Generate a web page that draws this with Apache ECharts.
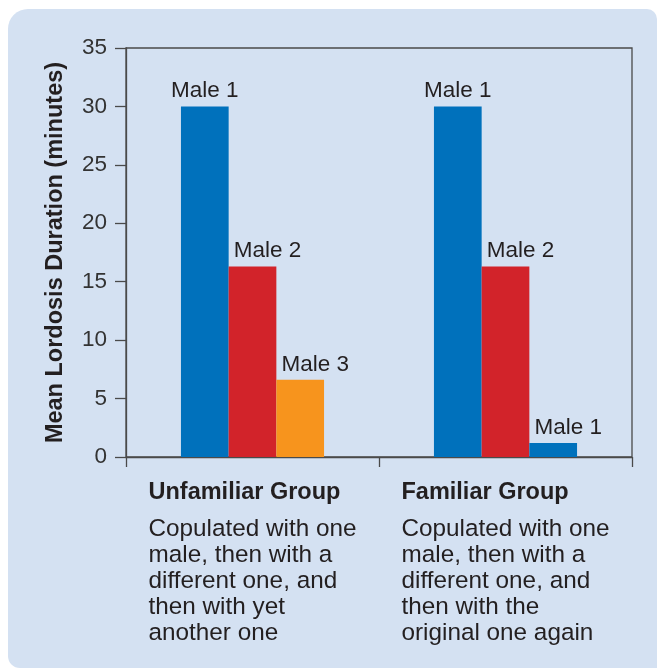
<!DOCTYPE html>
<html>
<head>
<meta charset="utf-8">
<script src="https://cdn.jsdelivr.net/npm/echarts@6/dist/echarts.min.js"></script>
<style>
  html, body { margin: 0; padding: 0; background: #fff; }
  #chart { width: 657px; height: 669px; }
</style>
</head>
<body>
<div id="chart"></div>
<script>
// data
const groups = ["Unfamiliar Group", "Familiar Group"];
const groupNotes = [
  ["Copulated with one", "male, then with a", "different one, and", "then with yet", "another one"],
  ["Copulated with one", "male, then with a", "different one, and", "then with the", "original one again"]
];
const firstMale = [30, 30];
const secondMale = [16.3, 16.3];
const thirdMale = [6.6, 1.2];
const firstLabels = ["Male 1", "Male 1"];
const secondLabels = ["Male 2", "Male 2"];
const thirdLabels = ["Male 3", "Male 1"];
const yTicks = [0, 5, 10, 15, 20, 25, 30, 35];

const blue = "#0071bc", red = "#d2232a", orange = "#f7941d";
const thirdColors = [orange, blue];
const ink = "#231f20";
const axisColor = "#4a4a4a";
const font = "Liberation Sans, Arial, Helvetica, sans-serif";

function barSeries(name, values, labels, colors, dx) {
  return {
    name: name,
    type: "bar",
    barWidth: 47.7,
    barGap: "0%",
    data: values.map((v, i) => ({
      value: v,
      itemStyle: { color: colors[i] },
      label: { formatter: labels[i] }
    })),
    label: {
      show: true,
      position: "top",
      distance: 4,
      offset: [dx, 0],
      color: ink,
      fontSize: 22.5,
      fontFamily: font
    }
  };
}

const chart = echarts.init(document.getElementById("chart"));
chart.setOption({
  backgroundColor: "#fff",
  animation: false,
  graphic: [{
    type: "rect",
    z: -100,
    silent: true,
    shape: { x: 8, y: 9, width: 649, height: 659, r: [20, 10, 0, 12] },
    style: { fill: "#d4e1f2" }
  }],
  grid: {
    left: 126, right: 25, top: 48, bottom: 212,
    show: true,
    borderColor: axisColor,
    borderWidth: 1.3,
    backgroundColor: "transparent"
  },
  xAxis: {
    type: "category",
    data: groups,
    axisLine: { lineStyle: { color: axisColor, width: 1.3 } },
    axisTick: { show: true, length: 10, interval: 0, lineStyle: { color: axisColor, width: 1.3 } },
    axisLabel: {
      interval: 0,
      margin: 13,
      formatter: function (val, idx) {
        return "{t|" + val + "}\n" + groupNotes[idx].map(s => "{d|" + s + "}").join("\n");
      },
      rich: {
        t: { fontSize: 23.5, fontWeight: "bold", lineHeight: 46, color: ink, fontFamily: font, align: "left" },
        d: { fontSize: 24.3, lineHeight: 26, color: ink, fontFamily: font, align: "left" }
      }
    }
  },
  yAxis: {
    type: "value",
    min: yTicks[0],
    max: yTicks[yTicks.length - 1],
    interval: 5,
    name: "Mean Lordosis Duration (minutes)",
    nameLocation: "middle",
    nameGap: 58,
    nameTextStyle: { fontSize: 23.5, fontWeight: "bold", color: ink, fontFamily: font },
    splitLine: { show: false },
    axisLine: { show: true, lineStyle: { color: axisColor, width: 1.3 } },
    axisTick: { show: true, length: 11, lineStyle: { color: axisColor, width: 1.3 } },
    axisLabel: { fontSize: 22.5, color: "#333", margin: 19, fontFamily: font }
  },
  series: [
    barSeries("First", firstMale, firstLabels, [blue, blue], 0),
    barSeries("Second", secondMale, secondLabels, [red, red], 15),
    barSeries("Third", thirdMale, thirdLabels, thirdColors, 15)
  ]
});
</script>
</body>
</html>
